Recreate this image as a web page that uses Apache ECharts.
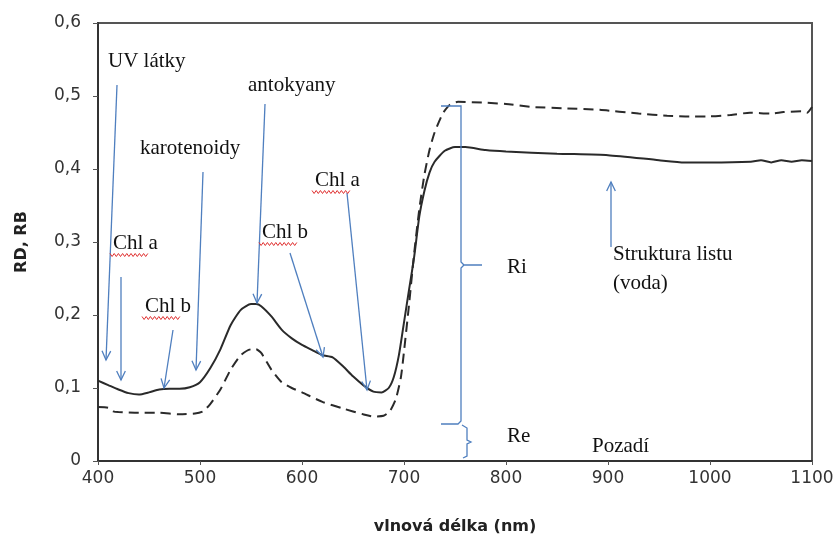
<!DOCTYPE html>
<html><head><meta charset="utf-8">
<script src="https://cdn.jsdelivr.net/npm/echarts@6/dist/echarts.min.js"></script>
<style>html,body{margin:0;padding:0;background:#fff}#c{width:837px;height:540px}</style>
</head><body><div id="c"></div>
<script>
// Solid curve (RD)
const wavelengthsRD = [400,410,420,430,440,450,460,470,480,490,500,510,520,530,540,550,555,560,570,580,590,600,610,620,630,640,650,660,670,678,685,690,695,700,705,710,715,720,725,730,740,750,760,780,800,850,900,950,975,1000,1040,1050,1060,1070,1080,1090,1100];
const valuesRD = [0.110,0.104,0.098,0.093,0.091,0.094,0.098,0.099,0.099,0.101,0.108,0.127,0.153,0.186,0.207,0.215,0.215,0.212,0.198,0.180,0.168,0.159,0.152,0.145,0.142,0.130,0.116,0.104,0.095,0.094,0.100,0.115,0.145,0.190,0.235,0.280,0.335,0.370,0.395,0.410,0.425,0.430,0.430,0.426,0.424,0.421,0.419,0.412,0.409,0.409,0.410,0.412,0.409,0.412,0.410,0.412,0.411];
// Dashed curve (RB)
const wavelengthsRB = [400,410,415,420,440,460,480,495,503,510,520,530,540,550,555,560,570,580,590,600,620,640,660,670,680,686,692,697,700,705,710,715,720,725,730,738,745,753,777,800,826,860,892,930,958,980,997,1020,1039,1060,1072,1090,1095,1100];
const valuesRB = [0.074,0.073,0.068,0.067,0.066,0.066,0.064,0.065,0.068,0.078,0.098,0.125,0.145,0.153,0.153,0.148,0.125,0.108,0.100,0.094,0.081,0.072,0.064,0.061,0.062,0.068,0.085,0.115,0.150,0.215,0.285,0.345,0.392,0.426,0.450,0.476,0.488,0.492,0.491,0.489,0.485,0.483,0.481,0.476,0.473,0.472,0.472,0.474,0.477,0.476,0.478,0.479,0.477,0.485];
const xMin = 400, xMax = 1100, xStep = 100;
const yMin = 0, yMax = 0.6, yStep = 0.1;
const xTitle = 'vlnová délka (nm)';
const yTitle = 'RD, RB';

// Annotation texts (pixel positions: left x, middle y)
const labels = [
  {t:'UV látky', x:108, y:61},
  {t:'Chl a', x:113, y:243, wavy:true},
  {t:'Chl b', x:145, y:306, wavy:true},
  {t:'karotenoidy', x:140, y:148},
  {t:'antokyany', x:248, y:85},
  {t:'Chl b', x:262, y:232, wavy:true},
  {t:'Chl a', x:315, y:180, wavy:true},
  {t:'Struktura listu', x:613, y:254},
  {t:'(voda)', x:613, y:283},
  {t:'Ri', x:507, y:267},
  {t:'Re', x:507, y:436},
  {t:'Pozadí', x:592, y:446}
];
// Arrows: from -> to (pixel)
const arrows = [
  [117,85,106,360],
  [121,277,121,380],
  [173,330,164,388],
  [203,172,196,370],
  [265,104,257,303],
  [290,253,323,357],
  [347,193,367,390],
  [611,247,611,182]
];
const blue = '#4f7fbf';

const graphics = [];
labels.forEach(l => {
  graphics.push({type:'text', z:100, style:{text:l.t, x:l.x, y:l.y, fill:'#111', font:'21px "Liberation Serif"', verticalAlign:'middle', align:'left'}});
  if (l.wavy) {
    const pts = [];
    const y0 = l.y + 12;
    for (let i = 0; i <= 18; i++) pts.push([l.x - 3 + i*2.1, y0 + (i%2 ? 1.5 : -1.5)]);
    graphics.push({type:'polyline', z:99, shape:{points:pts}, style:{stroke:'#e03030', lineWidth:1, fill:null}});
  }
});
arrows.forEach(a => {
  const [x1,y1,x2,y2] = a;
  graphics.push({type:'line', z:98, shape:{x1,y1,x2,y2}, style:{stroke:blue, lineWidth:1.3}});
  const ang = Math.atan2(y2-y1, x2-x1);
  const L = 10, w = 0.45;
  const p1 = [x2 - L*Math.cos(ang-w), y2 - L*Math.sin(ang-w)];
  const p2 = [x2 - L*Math.cos(ang+w), y2 - L*Math.sin(ang+w)];
  graphics.push({type:'polyline', z:98, shape:{points:[p1,[x2,y2],p2]}, style:{stroke:blue, lineWidth:1.3, fill:null}});
});
// Brackets Ri and Re
graphics.push({type:'polyline', z:98, shape:{points:[[441,106],[461,106],[461,262],[464,265],[482,265],[464,265],[461,268],[461,421],[458,424],[441,424]]}, style:{stroke:blue, lineWidth:1.3, fill:null}});
graphics.push({type:'polyline', z:98, shape:{points:[[462,425],[467,428],[467,440],[471,442],[467,444],[467,456],[463,458]]}, style:{stroke:blue, lineWidth:1.3, fill:null}});

const chart = echarts.init(document.getElementById('c'), null, {renderer:'canvas'});
chart.setOption({
  backgroundColor:'#fff',
  animation:false,
  grid:{left:98, right:25, top:23, bottom:79, show:true, borderColor:'#555', borderWidth:2, backgroundColor:'transparent'},
  xAxis:{type:'value', min:xMin, max:xMax, interval:xStep,
    name:xTitle, nameLocation:'middle', nameGap:58,
    nameTextStyle:{fontFamily:'DejaVu Sans', fontWeight:'bold', fontSize:16, color:'#222'},
    axisLine:{show:true, onZero:false, lineStyle:{color:'#333', width:2}},
    axisTick:{show:true, length:4, lineStyle:{color:'#555'}},
    axisLabel:{fontFamily:'DejaVu Sans', fontSize:17, color:'#333', margin:9, formatter: v => String(v)},
    splitLine:{show:false}},
  yAxis:{type:'value', min:yMin, max:yMax, interval:yStep,
    name:yTitle, nameLocation:'middle', nameGap:68, nameRotate:90,
    nameTextStyle:{fontFamily:'DejaVu Sans', fontWeight:'bold', fontSize:16, color:'#222'},
    axisLine:{show:true, lineStyle:{color:'#333', width:2}},
    axisTick:{show:true, length:5, lineStyle:{color:'#555'}},
    axisLabel:{fontFamily:'DejaVu Sans', fontSize:17, color:'#333', margin:17,
      formatter: v => v === 0 ? '0' : v.toFixed(1).replace('.', ',')},
    splitLine:{show:false}},
  series:[
    {type:'line', data:wavelengthsRD.map((x,i)=>[x, valuesRD[i]]), showSymbol:false, smooth:0.2,
     lineStyle:{color:'#2a2a2a', width:2}},
    {type:'line', data:wavelengthsRB.map((x,i)=>[x, valuesRB[i]]), showSymbol:false, smooth:0.2,
     lineStyle:{color:'#2a2a2a', width:2, type:[10,6]}}
  ],
  graphic:graphics
});
</script>
</body></html>
